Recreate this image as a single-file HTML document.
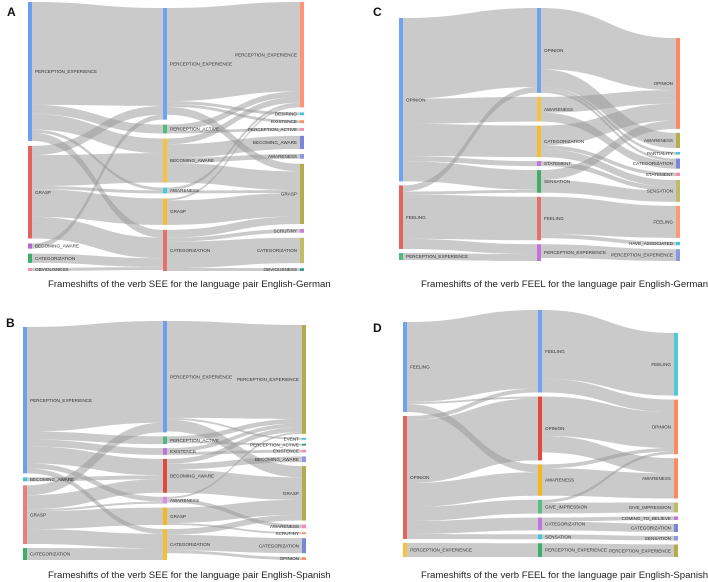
<!DOCTYPE html>
<html><head><meta charset="utf-8">
<style>
html,body{margin:0;padding:0;background:#fff;}
svg{display:block;font-family:"Liberation Sans",sans-serif;}
.lbl{font-size:4.6px;fill:#333;}
.ttl{font-size:9.6px;fill:#222;}
.plet{font-size:12px;font-weight:bold;fill:#111;}
</style></head>
<body>
<svg id="fig" width="708" height="582" viewBox="0 0 708 582" xmlns="http://www.w3.org/2000/svg">
<text class="plet" x="7" y="16">A</text>
<text class="plet" x="373" y="16">C</text>
<text class="plet" x="6" y="327">B</text>
<text class="plet" x="373" y="332">D</text>
<text class="ttl" x="48" y="287">Frameshifts of the verb SEE for the language pair English-German</text>
<text class="ttl" x="421" y="287">Frameshifts of the verb FEEL for the language pair English-German</text>
<text class="ttl" x="48" y="578">Frameshifts of the verb SEE for the language pair English-Spanish</text>
<text class="ttl" x="421" y="578">Frameshifts of the verb FEEL for the language pair English-Spanish</text>
<g id="links"></g>
<g id="nodes"></g>
</svg>
<script>
// ---------- Panel A: SEE English-German ----------
const aNames0 = ["PERCEPTION_EXPERIENCE","GRASP","BECOMING_AWARE","CATEGORIZATION","OBVIOUSNESS"];
const aNames1 = ["PERCEPTION_EXPERIENCE","PERCEPTION_ACTIVE","BECOMING_AWARE","AWARENESS","GRASP","CATEGORIZATION"];
const aNames2 = ["PERCEPTION_EXPERIENCE","DESIRING","EXISTENCE","PERCEPTION_ACTIVE","BECOMING_AWARE","AWARENESS","GRASP","SCRUTINY","CATEGORIZATION","OBVIOUSNESS"];
const aLinks01 = [[0,0,100],[0,1,9],[0,2,15],[0,3,3],[0,5,8],[1,0,9],[1,2,30],[1,3,3],[1,4,27],[1,5,21],[2,0,5],[3,5,9],[4,5,3]];
const aLinks12 = [[0,0,95],[0,1,3],[0,2,3],[0,6,8],[1,0,6],[1,3,3],[2,0,6],[2,4,14],[2,5,5],[2,6,20],[3,0,3],[3,6,3],[4,0,2],[4,6,25],[5,6,8],[5,7,4],[5,8,27],[5,9,3]];
// ---------- Panel C: FEEL English-German ----------
const cNames0 = ["OPINION","FEELING","PERCEPTION_EXPERIENCE"];
const cNames1 = ["OPINION","AWARENESS","CATEGORIZATION","STATEMENT","SENSATION","FEELING","PERCEPTION_EXPERIENCE"];
const cNames2 = ["OPINION","AWARENESS","PARTIALITY","CATEGORIZATION","STATEMENT","SENSATION","FEELING","HAVE_ASSOCIATED","PERCEPTION_EXPERIENCE"];
const cLinks01 = [[0,0,80],[0,1,25],[0,2,32],[0,3,5],[0,4,20],[1,0,6],[1,4,3],[1,5,44],[1,6,10],[2,6,7]];
const cLinks12 = [[0,0,62],[0,1,18],[0,2,3],[0,3,3],[1,0,16],[1,3,9],[2,0,20],[2,4,4],[2,5,8],[3,5,5],[4,0,10],[4,5,13],[5,6,38],[5,7,4],[6,8,14]];
// ---------- Panel B: SEE English-Spanish ----------
const bNames0 = ["PERCEPTION_EXPERIENCE","BECOMING_AWARE","GRASP","CATEGORIZATION"];
const bNames1 = ["PERCEPTION_EXPERIENCE","PERCEPTION_ACTIVE","EXISTENCE","BECOMING_AWARE","AWARENESS","GRASP","CATEGORIZATION"];
const bNames2 = ["PERCEPTION_EXPERIENCE","EVENT","PERCEPTION_ACTIVE","EXISTENCE","BECOMING_AWARE","GRASP","AWARENESS","SCRUTINY","CATEGORIZATION","OPINION"];
const bLinks01 = [[0,0,105],[0,1,8],[0,2,7],[0,3,17],[0,4,5],[0,6,5],[1,3,4],[2,0,10],[2,3,14],[2,4,2],[2,5,18],[2,6,15],[3,6,12]];
const bLinks12 = [[0,0,100],[0,1,2],[0,5,12],[1,0,5],[1,2,2],[2,0,4],[2,3,3],[3,0,5],[3,4,6],[3,5,24],[4,0,2],[4,6,4],[5,5,16],[5,7,2],[6,5,6],[6,8,16],[6,9,3]];
// ---------- Panel D: FEEL English-Spanish ----------
const dNames0 = ["FEELING","OPINION","PERCEPTION_EXPERIENCE"];
const dNames1 = ["FEELING","OPINION","AWARENESS","GIVE_IMPRESSION","CATEGORIZATION","SENSATION","PERCEPTION_EXPERIENCE"];
const dNames2 = ["FEELING","OPINION","AWARENESS","GIVE_IMPRESSION","COMING_TO_BELIEVE","CATEGORIZATION","SENSATION","PERCEPTION_EXPERIENCE"];
const dLinks01 = [[0,0,80],[0,1,2],[0,2,8],[1,0,4],[1,1,63],[1,2,24],[1,3,14],[1,4,13],[1,5,5],[2,6,14]];
const dLinks12 = [[0,0,70],[0,1,14],[1,1,40],[1,2,17],[2,1,4],[2,2,28],[3,1,3],[3,3,11],[4,4,4],[4,5,9],[5,6,5],[6,7,14]];

// ---------- layout / styling (not data) ----------
const panels = [
 {id:"a", names:[aNames0,aNames1,aNames2], links:[aLinks01,aLinks12],
  xs:[28,163,300], spans:[[2,271],[8,271],[2,271]], pad:5,
  colors:[["#6b9ff0","#e4625e","#b766d1","#3fae6b","#f28fb6"],
          ["#6fa3f2","#4fbb82","#f5c342","#4fc9d9","#f4bf2f","#e3716c"],
          ["#ff9576","#45c7da","#ff8f62","#f48db0","#7b86d8","#8c98e0","#b3ad4b","#d27be2","#c1bc68","#2e9c86"]]},
 {id:"c", names:[cNames0,cNames1,cNames2], links:[cLinks01,cLinks12],
  xs:[399,537,676], spans:[[18,260],[8,261],[38,261]], pad:4,
  colors:[["#6fa3f2","#e4625e","#4fbb82"],
          ["#6fa3f2","#f5c342","#f4bf2f","#c074dc","#3fae6b","#e3716c","#c074dc"],
          ["#ff8a62","#b3ad4b","#45c7da","#7b86d8","#f48db0","#c1bc68","#ff9a78","#45c7da","#8c98e0"]]},
 {id:"b", names:[bNames0,bNames1,bNames2], links:[bLinks01,bLinks12],
  xs:[23,163,302], spans:[[327,560],[321,560],[325,560]], pad:4,
  colors:[["#6b9ff0","#45c7da","#e8807a","#3fae6b"],
          ["#6b9ff0","#4fbb82","#c074dc","#e04a3c","#d98ce6","#f4b71d","#f4c030"],
          ["#b3ad4b","#45c7da","#2e9c86","#f48db0","#8c98e0","#b3ad4b","#f48db0","#ff8f62","#7b86d8","#ff8f62"]]},
 {id:"d", names:[dNames0,dNames1,dNames2], links:[dLinks01,dLinks12],
  xs:[403,538,674], spans:[[322,557],[310,557],[333,557]], pad:4,
  colors:[["#6fa3f2","#e4625e","#f5c342"],
          ["#6fa3f2","#e04a3c","#f4b71d","#5dbb86","#c074dc","#45c7da","#3fae6b"],
          ["#4fc9d9","#ff8a62","#ff8a62","#c1bc68","#c074dc","#7b86d8","#8c98e0","#b3ad4b"]]}
];
const NS="http://www.w3.org/2000/svg";
const gL=document.getElementById("links"), gN=document.getElementById("nodes");
const BW=4;

panels.forEach(p=>{
  const cols=p.names.length;
  // node values = max(in,out)
  const vals=p.names.map(n=>n.map(()=>({in:0,out:0})));
  p.links.forEach((ls,c)=>ls.forEach(([s,t,v])=>{vals[c][s].out+=v; vals[c+1][t].in+=v;}));
  const nodes=p.names.map((names,c)=>{
    const v=names.map((_,i)=>Math.max(vals[c][i].in,vals[c][i].out));
    const tot=v.reduce((a,b)=>a+b,0);
    const [y0,y1]=p.spans[c];
    const k=(y1-y0-p.pad*(names.length-1))/tot;
    let y=y0;
    return names.map((nm,i)=>{const h=v[i]*k; const o={name:nm,y:y,h:h,k:k,outY:y,inY:y}; y+=h+p.pad; return o;});
  });
  // links
  p.links.forEach((ls,c)=>{
    const sorted=ls.map((l,i)=>({s:l[0],t:l[1],v:l[2]}));
    const bySrc=[...sorted].sort((a,b)=>a.s-b.s||a.t-b.t);
    bySrc.forEach(l=>{const n=nodes[c][l.s]; l.sy=n.outY; l.sh=l.v*n.k; n.outY+=l.sh;});
    const byTgt=[...sorted].sort((a,b)=>a.t-b.t||a.s-b.s);
    byTgt.forEach(l=>{const n=nodes[c+1][l.t]; l.ty=n.inY; l.th=l.v*n.k; n.inY+=l.th;});
    const x0=p.xs[c]+BW, x1=p.xs[c+1], xm=(x0+x1)/2;
    sorted.forEach(l=>{
      const d=`M${x0},${l.sy}C${xm},${l.sy} ${xm},${l.ty} ${x1},${l.ty}L${x1},${l.ty+l.th}C${xm},${l.ty+l.th} ${xm},${l.sy+l.sh} ${x0},${l.sy+l.sh}Z`;
      const el=document.createElementNS(NS,"path");
      el.setAttribute("d",d);
      el.setAttribute("fill","rgba(150,150,150,0.5)");
      
      
      gL.appendChild(el);
    });
  });
  // nodes
  nodes.forEach((col,c)=>col.forEach((n,i)=>{
    const r=document.createElementNS(NS,"rect");
    r.setAttribute("x",p.xs[c]); r.setAttribute("y",n.y);
    r.setAttribute("width",BW); r.setAttribute("height",Math.max(n.h,1.5));
    r.setAttribute("fill",p.colors[c][i]);
    
    
    gN.appendChild(r);
    const t=document.createElementNS(NS,"text");
    t.setAttribute("class","lbl");
    const right=(c===cols-1);
    t.setAttribute("x", right? p.xs[c]-3 : p.xs[c]+BW+3);
    t.setAttribute("y", n.y+n.h/2+1.6);
    if(right) t.setAttribute("text-anchor","end");
    t.textContent=n.name;
    
    
    gN.appendChild(t);
  }));
});
</script>
</body></html>
